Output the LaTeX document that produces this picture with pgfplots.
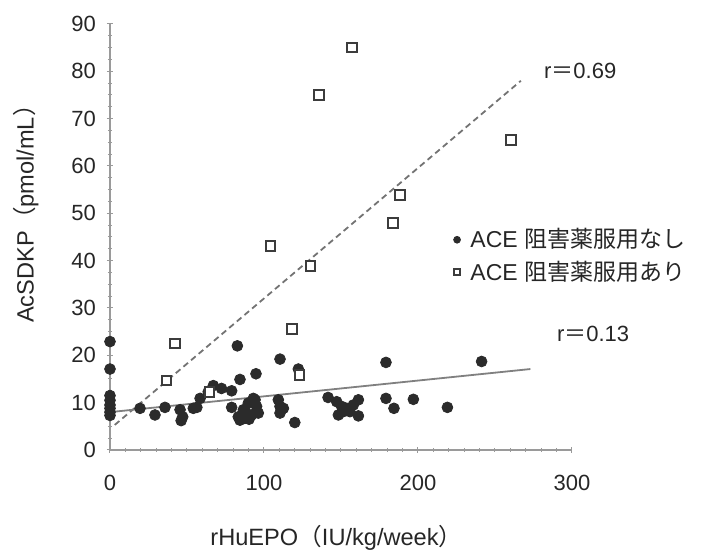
\documentclass[border=0pt]{standalone}
\usepackage{fontspec}
\setmainfont{Liberation Sans}
\newfontfamily\jp{Noto Sans CJK JP}
\usepackage{pgfplots}
\pgfplotsset{compat=1.18}

\definecolor{dotc}{HTML}{2B2B2B}
\definecolor{sqc}{HTML}{3C3C3C}
\definecolor{axc}{HTML}{9A9A9A}

\newcommand{\fs}{\fontsize{11}{13}\selectfont}

\begin{document}
\begin{tikzpicture}
\begin{axis}[
    scale only axis,
    width=231pt,
    height=213pt,
    xmin=0, xmax=300,
    ymin=0, ymax=90,
    axis x line=bottom,
    axis y line=left,
    axis line style={-, draw=axc, line width=0.8pt},
    xtick={0,100,200,300},
    ytick={0,10,...,90},
    minor x tick num=9,
    minor y tick num=3,
    tick align=center,
    major tick length=3pt,
    minor tick length=2pt,
    tick style={draw=axc, line width=0.5pt},
    /pgf/number format/assume math mode=true,
    tick label style={font=\fs, text=black!85},
    xticklabel style={yshift=-7.5pt},
    yticklabel style={xshift=-2pt},
    xlabel={rHuEPO{\jp （}IU/kg/week{\jp ）}},
    ylabel={AcSDKP{\jp （}pmol/mL{\jp ）}},
    label style={font=\fontsize{11.8}{14}\selectfont, text=black!85},
    xlabel style={at={(rel axis cs:0.49,-0.207)}, anchor=center},
    ylabel style={at={(rel axis cs:-0.182,0.568)}, anchor=center},
    clip=false,
    legend style={at={(rel axis cs:0.743,0.53)}, anchor=north west,
        draw=none, fill=none, font=\fontsize{11.5}{13}\selectfont, text=black!85,
        row sep=1pt, inner sep=0pt,
        /tikz/every odd column/.append style={column sep=3pt}},
    legend image post style={mark size=1.7pt},
    legend cell align=left,
]
% trend lines
\addplot[forget plot, draw=black!55, line width=0.9pt, dashed,
    dash pattern=on 3pt off 2pt] coordinates {(3.1,5.3) (266.8,78)};
\addplot[forget plot, draw=black!50, line width=0.9pt] coordinates {(0,8.0) (273,17.1)};

% no ACE inhibitor
\addplot[only marks, mark=*, mark size=2.7pt, draw=dotc, fill=dotc]
coordinates {
(0,22.9) (0,17.1) (0,11.5) (0,10.5) (0,9.5) (0,8.8) (0,8.0) (0,7.3)
(19.5,8.8) (29.2,7.4) (35.7,9.0) (45.5,8.5) (47.2,7.0) (46.2,6.2) (54.1,8.8)
(56.4,9.0) (58.5,10.9) (63.8,12.3) (67.1,13.6) (72.4,13.0) (79.0,12.5) (79.0,9.0)
(82.7,22.0) (84.4,14.9) (94.8,16.1)
(93.1,10.9) (89.8,9.9) (86.6,8.5) (83.3,7.0) (95.2,9.2) (92.0,7.4) (87.6,6.7)
(84.4,6.3) (96.3,7.8) (94.2,10.6) (88.2,8.0) (90.3,6.5)
(109.3,10.6) (110.4,9.2) (112.6,8.8) (110.4,7.8) (110.4,19.2) (122.3,17.1) (120.0,5.8)
(141.6,11.1) (147.2,10.2) (150.4,9.2) (148.3,7.4) (153.7,8.8) (158.0,9.5) (161.3,10.6)
(161.3,7.2) (155.8,8.1) (151.5,8.1)
(179.2,18.5) (179.2,10.9) (184.4,8.8) (197.0,10.7) (219.1,9.0) (241.3,18.7)
};
\addlegendentry{ACE {\jp 阻害薬服用なし}}

% with ACE inhibitor
\addplot[only marks, mark=square*, mark size=2.4pt, draw=sqc, fill=white, line width=1pt]
coordinates {
(157.0,85.0) (135.9,75.0) (260.3,65.5) (188.4,53.9) (183.7,48.0) (104.3,43.1)
(130.3,38.9) (118.0,25.6) (42.1,22.5) (36.7,14.7) (123.1,15.9) (64.6,12.3)
};
\addlegendentry{ACE {\jp 阻害薬服用あり}}

\node[anchor=west, font=\fs, text=black!85] at (axis cs:277.3,80) {r{\jp ＝}0.69};
\node[anchor=west, font=\fs, text=black!85] at (axis cs:285.7,24.5) {r{\jp ＝}0.13};

\path (rel axis cs:-0.2381,-0.2300) rectangle (rel axis cs:1.2814,1.0563);
\end{axis}
\end{tikzpicture}
\end{document}
